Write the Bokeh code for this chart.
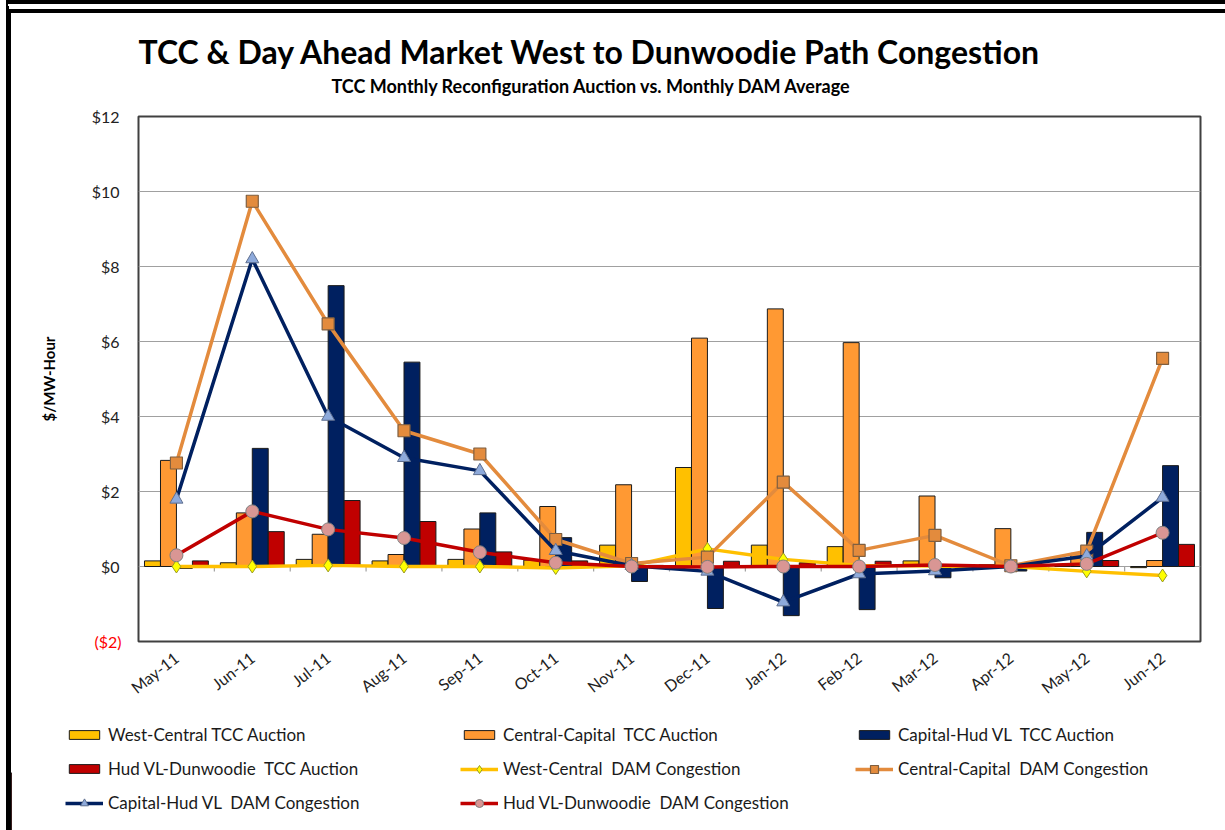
import math
from bokeh.plotting import figure
from bokeh.layouts import column
from bokeh.models import (ColumnDataSource, FactorRange, Range1d, FixedTicker, Legend,
                          LegendItem, Title, LinearAxis)
from bokeh.transform import dodge
from bokeh.embed import file_html
from bokeh.resources import INLINE

# ---------------- data ----------------
months = ["May-11", "Jun-11", "Jul-11", "Aug-11", "Sep-11", "Oct-11", "Nov-11",
          "Dec-11", "Jan-12", "Feb-12", "Mar-12", "Apr-12", "May-12", "Jun-12"]
wc_tcc = [0.15, 0.10, 0.19, 0.15, 0.19, 0.17, 0.57, 2.64, 0.57, 0.53, 0.15, 0.05, 0.02, -0.03]
cc_tcc = [2.83, 1.43, 0.86, 0.32, 1.00, 1.60, 2.18, 6.09, 6.87, 5.97, 1.88, 1.01, 0.35, 0.16]
ch_tcc = [-0.05, 3.15, 7.49, 5.45, 1.43, 0.77, -0.40, -1.12, -1.31, -1.15, -0.30, -0.12, 0.91, 2.69]
hd_tcc = [0.15, 0.93, 1.76, 1.20, 0.39, 0.15, 0.03, 0.14, 0.10, 0.14, 0.03, 0.04, 0.16, 0.59]
wc_dam = [0.00, 0.00, 0.03, 0.00, 0.00, -0.04, 0.02, 0.47, 0.19, 0.03, 0.01, 0.00, -0.13, -0.24]
cc_dam = [2.76, 9.74, 6.47, 3.62, 3.00, 0.72, 0.08, 0.25, 2.25, 0.43, 0.83, 0.02, 0.41, 5.55]
ch_dam = [1.79, 8.20, 4.00, 2.90, 2.55, 0.42, 0.02, -0.13, -0.95, -0.20, -0.12, 0.00, 0.28, 1.84]
hd_dam = [0.30, 1.47, 0.99, 0.76, 0.38, 0.10, 0.00, -0.01, 0.00, 0.00, 0.04, 0.00, 0.07, 0.90]
y_ticks = [0, 2, 4, 6, 8, 10, 12]
y_tick_labels = ["$0", "$2", "$4", "$6", "$8", "$10", "$12"]
neg_tick = [-2]
neg_tick_label = ["($2)"]

FONT = "Lato"

# ---------------- styles ----------------
C_WC_BAR, C_CC_BAR, C_CH_BAR, C_HD_BAR = "#ffc000", "#ff9933", "#002060", "#c00000"
BAR_LINE = "#1a1a1a"
LW = 3.5
WC_LINE = dict(line_color="#ffc000", line_width=LW)
WC_MARK = dict(marker="diamond", size=13, fill_color="#ffff00", line_color="#9a9a20", line_width=1)
CC_LINE = dict(line_color="#e38b3d", line_width=LW)
CC_MARK = dict(marker="square", size=12, fill_color="#e38b3d", line_color="#7f5f40", line_width=1.2)
CH_LINE = dict(line_color="#002060", line_width=LW)
CH_MARK = dict(marker="triangle", size=13, fill_color="#8eaadb", line_color="#5f6f8f", line_width=1)
HD_LINE = dict(line_color="#c00000", line_width=LW)
HD_MARK = dict(marker="circle", size=13, fill_color="#d99694", line_color="#7f7f7f", line_width=1)

src = ColumnDataSource(dict(m=months, wc_tcc=wc_tcc, cc_tcc=cc_tcc, ch_tcc=ch_tcc,
                            hd_tcc=hd_tcc, wc_dam=wc_dam, cc_dam=cc_dam,
                            ch_dam=ch_dam, hd_dam=hd_dam))
bsrc = ColumnDataSource(dict(m=months[:-1], y0=[0.0] * 13, y1=[-0.13] * 13))

p = figure(x_range=FactorRange(*months, range_padding=0), y_range=Range1d(-2, 12),
           width=1214, height=702, output_backend="svg", toolbar_location=None,
           min_border_left=127, min_border_right=25, min_border_top=103,
           min_border_bottom=74)
p.background_fill_color = "white"
p.border_fill_color = "white"
p.outline_line_color = "#404040"
p.outline_line_width = 2

p.xgrid.grid_line_color = None
p.ygrid.ticker = FixedTicker(ticks=neg_tick + y_ticks)
p.ygrid.grid_line_color = "#a0a0a0"
p.ygrid.grid_line_width = 1.2

yax = p.yaxis[0]
yax.ticker = FixedTicker(ticks=y_ticks)
yax.major_label_overrides = {t: s for t, s in zip(y_ticks, y_tick_labels)}
yax.axis_line_color = None
yax.major_tick_line_color = None
yax.minor_tick_line_color = None
yax.major_label_standoff = 13
yax.major_label_text_font = FONT
yax.major_label_text_font_size = "16px"
yax.major_label_text_color = "#222222"

# second left axis that carries the red negative label and the axis title
nax = LinearAxis(ticker=FixedTicker(ticks=neg_tick),
                 major_label_overrides={t: s for t, s in zip(neg_tick, neg_tick_label)},
                 axis_label="$/MW-Hour")
nax.axis_line_color = None
nax.major_tick_line_color = None
nax.minor_tick_line_color = None
nax.major_label_standoff = -39
nax.major_label_text_font = FONT
nax.major_label_text_font_size = "16px"
nax.major_label_text_color = "#ff0000"
nax.axis_label_text_font = FONT
nax.axis_label_text_font_size = "15px"
nax.axis_label_text_font_style = "bold"
nax.axis_label_text_color = "black"
nax.axis_label_standoff = 33
p.add_layout(nax, "left")

p.xaxis.axis_line_color = None
p.xaxis.major_tick_line_color = None
p.xaxis.minor_tick_line_color = None
p.xaxis.major_label_orientation = math.radians(38)
p.xaxis.major_label_standoff = 8
p.xaxis.major_label_text_font = FONT
p.xaxis.major_label_text_font_size = "16px"
p.xaxis.major_label_text_color = "#222222"

# boundary ticks on the zero line
p.segment(x0=dodge("m", 0.5, range=p.x_range), x1=dodge("m", 0.5, range=p.x_range),
          y0="y0", y1="y1", source=bsrc, line_color="#a0a0a0", line_width=1.2)

bw = 0.21
p.vbar(x=dodge("m", -0.316, range=p.x_range), top="wc_tcc", width=bw, source=src,
       fill_color=C_WC_BAR, line_color=BAR_LINE, line_width=1)
p.vbar(x=dodge("m", -0.105, range=p.x_range), top="cc_tcc", width=bw, source=src,
       fill_color=C_CC_BAR, line_color=BAR_LINE, line_width=1)
p.vbar(x=dodge("m", 0.105, range=p.x_range), top="ch_tcc", width=bw, source=src,
       fill_color=C_CH_BAR, line_color=BAR_LINE, line_width=1)
p.vbar(x=dodge("m", 0.316, range=p.x_range), top="hd_tcc", width=bw, source=src,
       fill_color=C_HD_BAR, line_color=BAR_LINE, line_width=1)

p.line("m", "wc_dam", source=src, **WC_LINE)
p.scatter("m", "wc_dam", source=src, **WC_MARK)
p.line("m", "cc_dam", source=src, **CC_LINE)
p.scatter("m", "cc_dam", source=src, **CC_MARK)
p.line("m", "ch_dam", source=src, **CH_LINE)
p.scatter("m", "ch_dam", source=src, **CH_MARK)
p.line("m", "hd_dam", source=src, **HD_LINE)
p.scatter("m", "hd_dam", source=src, **HD_MARK)

# ---------------- titles ----------------
p.add_layout(Title(text="TCC Monthly Reconfiguration  Auction vs. Monthly DAM Average",
                   align="left", offset=193, text_font=FONT, text_font_size="18px",
                   text_font_style="bold", text_color="black", standoff=39), "above")
try:
    main_title = Title(text="TCC & Day Ahead Market West to Dunwoodie Path Congestion",
                       align="left", offset=0, text_font=FONT, text_font_size="32px",
                       text_font_style="bold", text_color="black", standoff=-34)
except Exception:
    main_title = Title(text="TCC & Day Ahead Market West to Dunwoodie Path Congestion",
                       align="left", offset=0, text_font=FONT, text_font_size="32px",
                       text_font_style="bold", text_color="black", standoff=0)
p.add_layout(main_title, "above")

# ---------------- legend (separate strip below the chart) ----------------
lf = figure(width=1214, height=115, x_range=Range1d(0, 1), y_range=Range1d(0, 1),
            output_backend="svg", toolbar_location=None, min_border=0,
            min_border_left=0, min_border_right=0, min_border_top=0, min_border_bottom=0,
            x_axis_type=None, y_axis_type=None)
for fig in (p, lf):
    if "frame_align" in fig.properties():
        fig.frame_align = False
lf.outline_line_color = None
lf.background_fill_color = "white"
lf.border_fill_color = "white"

# legend-only renderers: a single sample placed outside the strip's visible range
hx = [-5.0]
hy = [0.5]
g1 = lf.vbar(x=hx, top=hy, width=0.1, fill_color=C_WC_BAR, line_color=BAR_LINE, line_width=1)
g2 = lf.vbar(x=hx, top=hy, width=0.1, fill_color=C_CC_BAR, line_color=BAR_LINE, line_width=1)
g3 = lf.vbar(x=hx, top=hy, width=0.1, fill_color=C_CH_BAR, line_color=BAR_LINE, line_width=1)
g4 = lf.vbar(x=hx, top=hy, width=0.1, fill_color=C_HD_BAR, line_color=BAR_LINE, line_width=1)
k5 = [lf.line(x=hx, y=hy, **WC_LINE), lf.scatter(x=hx, y=hy, **WC_MARK)]
k6 = [lf.line(x=hx, y=hy, **CC_LINE), lf.scatter(x=hx, y=hy, **CC_MARK)]
k7 = [lf.line(x=hx, y=hy, **CH_LINE), lf.scatter(x=hx, y=hy, **CH_MARK)]
k8 = [lf.line(x=hx, y=hy, **HD_LINE), lf.scatter(x=hx, y=hy, **HD_MARK)]

COL_X = [54, 449, 844]
ROW_Y = [85, 51, 17]


def mk_legend(label, rends, col, row, gh):
    lg = Legend(items=[LegendItem(label=label, renderers=rends)],
                location=(COL_X[col], ROW_Y[row]), orientation="vertical",
                background_fill_alpha=0, border_line_color=None, padding=0, margin=0,
                spacing=0, glyph_width=38, glyph_height=gh, label_height=20,
                label_standoff=5, label_text_font=FONT, label_text_font_size="17px",
                label_text_color="#1a1a1a")
    lf.add_layout(lg, "center")


mk_legend("West-Central TCC Auction", [g1], 0, 0, 11)
mk_legend("Central-Capital  TCC Auction", [g2], 1, 0, 11)
mk_legend("Capital-Hud VL  TCC Auction", [g3], 2, 0, 11)
mk_legend("Hud VL-Dunwoodie  TCC Auction", [g4], 0, 1, 11)
mk_legend("West-Central  DAM Congestion", k5, 1, 1, 20)
mk_legend("Central-Capital  DAM Congestion", k6, 2, 1, 20)
mk_legend("Capital-Hud VL  DAM Congestion", k7, 0, 2, 20)
mk_legend("Hud VL-Dunwoodie  DAM Congestion", k8, 1, 2, 20)

layout = column(p, lf, spacing=0,
                styles={"border-top": "13px double black", "border-left": "5px solid black",
                        "margin-top": "0px", "margin-left": "6px"})

open("out.html", "w").write(file_html(layout, INLINE))
